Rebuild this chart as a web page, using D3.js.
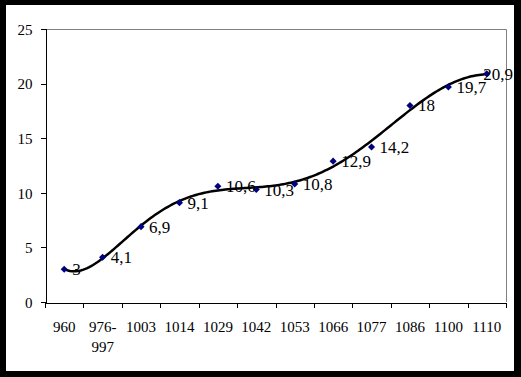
<!DOCTYPE html>
<html>
<head>
<meta charset="utf-8">
<script src="https://cdn.jsdelivr.net/npm/d3@7"></script>
<style>
  html, body { margin: 0; padding: 0; background: #000; }
  svg { display: block; }
  text { font-family: 'Liberation Serif', 'Times New Roman', serif; fill: #000; }
</style>
</head>
<body>
<div id="chart"></div>
<script>
const categories = ['960', '976-997', '1003', '1014', '1029', '1042', '1053', '1066', '1077', '1086', '1100', '1110'];
const values = [3, 4.1, 6.9, 9.1, 10.6, 10.3, 10.8, 12.9, 14.2, 18, 19.7, 20.9];
const yTicks = [0, 5, 10, 15, 20, 25];
const TREND_ORDER = 6;

// least squares polynomial, x rescaled to [-1,1] for stability
function polyFit(xs, ys, order) {
  const n = order + 1, A = [], b = [];
  for (let i = 0; i < n; i++) {
    A.push(new Array(n).fill(0)); b.push(0);
  }
  xs.forEach((x, k) => {
    for (let i = 0; i < n; i++) {
      b[i] += ys[k] * Math.pow(x, i);
      for (let j = 0; j < n; j++) A[i][j] += Math.pow(x, i + j);
    }
  });
  for (let c = 0; c < n; c++) {
    let p = c;
    for (let r = c + 1; r < n; r++) if (Math.abs(A[r][c]) > Math.abs(A[p][c])) p = r;
    [A[c], A[p]] = [A[p], A[c]]; [b[c], b[p]] = [b[p], b[c]];
    for (let r = c + 1; r < n; r++) {
      const f = A[r][c] / A[c][c];
      for (let j = c; j < n; j++) A[r][j] -= f * A[c][j];
      b[r] -= f * b[c];
    }
  }
  const coef = new Array(n).fill(0);
  for (let r = n - 1; r >= 0; r--) {
    let s = b[r];
    for (let j = r + 1; j < n; j++) s -= A[r][j] * coef[j];
    coef[r] = s / A[r][r];
  }
  return x => coef.reduce((acc, c, i) => acc + c * Math.pow(x, i), 0);
}

const W = 521, H = 377, M = { t: 29, r: 15, b: 75, l: 45 };
const svg = d3.select('#chart').append('svg').attr('width', W).attr('height', H);
svg.append('rect').attr('width', W).attr('height', H).attr('fill', '#000');
svg.append('rect').attr('x', 6).attr('y', 5).attr('width', 508).attr('height', 366).attr('fill', '#fff');

const x = d3.scaleBand().domain(categories).range([M.l, W - M.r]);
const xIdx = d3.scaleLinear().domain([0, categories.length]).range([M.l, W - M.r]);
const y = d3.scaleLinear().domain([0, 25]).range([H - M.b, M.t]);

// plot frame (grey top/right)
svg.append('path')
  .attr('d', `M${M.l},${y(25) + 0.5}H${W - M.r + 0.5}V${y(0)}`)
  .attr('fill', 'none').attr('stroke', '#808080').attr('stroke-width', 1);

const gy = svg.append('g').attr('transform', `translate(${M.l + 0.5},0)`)
  .call(d3.axisLeft(y).tickValues(yTicks).tickSize(5).tickPadding(8).tickFormat(d3.format('d')));
const gx = svg.append('g').attr('transform', `translate(0,${y(0) + 0.5})`)
  .call(d3.axisBottom(xIdx).tickValues(d3.range(categories.length + 1)).tickSize(5).tickFormat(''));
[gy, gx].forEach(g => {
  g.selectAll('path,line').attr('stroke', '#000').attr('shape-rendering', 'crispEdges');
});
gy.selectAll('text').style('font-size', '15px').attr('fill', '#000').attr('dy', '0.35em');

// category labels, wrapped after a hyphen
const xl = svg.append('g').selectAll('text').data(categories).enter().append('text')
  .attr('text-anchor', 'middle').style('font-size', '15px')
  .attr('transform', d => `translate(${x(d) + x.bandwidth() / 2},${y(0) + 30})`);
xl.each(function (d) {
  const parts = d.includes('-') ? [d.slice(0, d.indexOf('-') + 1), d.slice(d.indexOf('-') + 1)] : [d];
  d3.select(this).selectAll('tspan').data(parts).enter().append('tspan')
    .attr('x', 0).attr('y', (p, i) => i * 20).text(p => p);
});

// trend line
const idx = values.map((v, i) => i);
const tScale = d3.scaleLinear().domain([0, values.length - 1]).range([-1, 1]);
const fit = polyFit(idx.map(tScale), values, TREND_ORDER);
const samples = d3.range(0, values.length - 1 + 1e-9, 0.05);
svg.append('path')
  .datum(samples)
  .attr('fill', 'none').attr('stroke', '#000').attr('stroke-width', 2.5)
  .attr('d', d3.line().x(t => xIdx(t + 0.5)).y(t => y(fit(tScale(t)))));

// markers
svg.append('g').selectAll('path').data(values).enter().append('path')
  .attr('d', d3.symbol().type(d3.symbolSquare).size(25))
  .attr('fill', '#000080')
  .attr('transform', (d, i) => `translate(${x(categories[i]) + x.bandwidth() / 2},${y(d)}) rotate(45)`);

// data labels, pushed back inside the frame if they would run past it
const maxRight = 513;
svg.append('g').selectAll('text').data(values).enter().append('text')
  .style('font-size', '17px')
  .attr('x', (d, i) => x(categories[i]) + x.bandwidth() / 2 + 8)
  .attr('y', d => y(d) + 6)
  .text(d => String(d).replace('.', ','))
  .each(function () {
    const t = d3.select(this), w = this.getComputedTextLength(), x0 = +t.attr('x');
    if (x0 + w > maxRight) t.attr('x', maxRight - w);
  });
</script>
</body>
</html>
